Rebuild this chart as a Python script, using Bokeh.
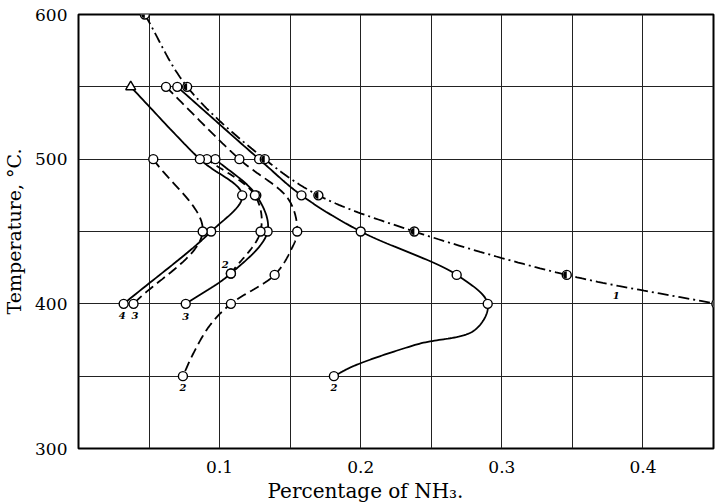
import numpy as np
from bokeh.plotting import figure
from bokeh.models import FixedTicker, Range1d, Title
from bokeh.embed import file_html
from bokeh.resources import INLINE
from bokeh.core.properties import value

# ---------------- data ----------------
# Curve 1, dash-dot
c1_x = [0.047, 0.077, 0.132, 0.170, 0.238, 0.346, 0.452]
c1_y = [600, 550, 500, 475, 450, 420, 400]

# Curve 2, solid (observed points, then traced path)
c2s_x = [0.070, 0.128, 0.158, 0.200, 0.268, 0.290, 0.181]
c2s_y = [550, 500, 475, 450, 420, 400, 350]
c2s_path_x = [0.070, 0.128, 0.158, 0.200, 0.268, 0.290, 0.281, 0.240, 0.195, 0.181]
c2s_path_y = [550, 500, 475, 450, 420, 400, 382, 372, 357, 350]

# Curve 2, dashed
c2d_x = [0.062, 0.114, 0.155, 0.139, 0.108, 0.074]
c2d_y = [550, 500, 450, 420, 400, 350]
c2d_path_x = [0.062, 0.114, 0.149, 0.155, 0.151, 0.139, 0.108, 0.093, 0.081, 0.074]
c2d_path_y = [550, 500, 472, 450, 438, 420, 400, 385, 365, 350]

# Curve 3, solid
c3s_x = [0.076, 0.108, 0.134, 0.126, 0.097]
c3s_y = [400, 421, 450, 475, 500]

# Curve 3, dashed (short)
c3d_x = [0.108, 0.129, 0.125, 0.091]
c3d_y = [421, 450, 475, 500]

# Curve 4, solid (starts with triangle at 550)
c4s_x = [0.037, 0.086, 0.116, 0.094, 0.032]
c4s_y = [550, 500, 475, 450, 400]

# Curve 4/3, dashed
c4d_x = [0.053, 0.088, 0.039]
c4d_y = [500, 450, 400]

# curve number labels
lab_text = ["1", "4", "3", "3", "2", "2", "2"]
lab_x = [0.381, 0.031, 0.040, 0.076, 0.074, 0.181, 0.104]
lab_y = [406, 392, 392, 391, 342, 342, 427]

x_ticks = [0.1, 0.2, 0.3, 0.4]
y_ticks = [300, 400, 500, 600]
x_grid = [0.05, 0.10, 0.15, 0.20, 0.25, 0.30, 0.35, 0.40]
y_grid = [350, 400, 450, 500, 550]

# ---------------- helpers ----------------
SX, SY = 1425.0, 1.453   # px per data unit (used only for smooth drawing)


def smooth(xs, ys, n=30):
    P = np.column_stack([np.asarray(xs, float) * SX, np.asarray(ys, float) * SY])
    if len(P) < 3:
        return list(xs), list(ys)
    P = np.vstack([2 * P[0] - P[1], P, 2 * P[-1] - P[-2]])
    out = []
    for i in range(1, len(P) - 2):
        p0, p1, p2, p3 = P[i - 1], P[i], P[i + 1], P[i + 2]
        t0 = 0.0
        t1 = t0 + max(np.linalg.norm(p1 - p0), 1e-6) ** 0.5
        t2 = t1 + max(np.linalg.norm(p2 - p1), 1e-6) ** 0.5
        t3 = t2 + max(np.linalg.norm(p3 - p2), 1e-6) ** 0.5
        t = np.linspace(t1, t2, n)[:, None]
        A1 = (t1 - t) / (t1 - t0) * p0 + (t - t0) / (t1 - t0) * p1
        A2 = (t2 - t) / (t2 - t1) * p1 + (t - t1) / (t2 - t1) * p2
        A3 = (t3 - t) / (t3 - t2) * p2 + (t - t2) / (t3 - t2) * p3
        B1 = (t2 - t) / (t2 - t0) * A1 + (t - t0) / (t2 - t0) * A2
        B2 = (t3 - t) / (t3 - t1) * A2 + (t - t1) / (t3 - t1) * A3
        C = (t2 - t) / (t2 - t1) * B1 + (t - t1) / (t2 - t1) * B2
        out.append(C if i == 1 else C[1:])
    C = np.vstack(out)
    return list(C[:, 0] / SX), list(C[:, 1] / SY)


FONT = "DejaVu Serif"

p = figure(width=723, height=504, output_backend="svg", toolbar_location=None,
           x_range=Range1d(0, 0.45), y_range=Range1d(300, 600),
           min_border_left=76, min_border_right=10, min_border_top=14,
           min_border_bottom=0)
p.background_fill_color = "white"
p.border_fill_color = "white"
p.outline_line_color = "black"
p.outline_line_width = 2

p.xaxis.ticker = FixedTicker(ticks=x_ticks)
p.yaxis.ticker = FixedTicker(ticks=y_ticks)
p.xgrid.ticker = FixedTicker(ticks=x_grid)
p.ygrid.ticker = FixedTicker(ticks=y_grid)
for g in (p.xgrid, p.ygrid):
    g.grid_line_color = "#222222"
    g.grid_line_width = 1
    g.grid_line_alpha = 1.0

for ax in (p.xaxis, p.yaxis):
    ax.axis_line_color = None
    ax.major_tick_line_color = None
    ax.minor_tick_line_color = None
    ax.major_label_text_font = FONT
    ax.major_label_text_font_size = "17px"
    ax.major_label_text_color = "black"
    ax.axis_label_text_font = FONT
    ax.axis_label_text_font_size = "19px"
    ax.axis_label_text_font_style = "normal"
    ax.axis_label_text_color = "black"

p.xaxis.major_label_standoff = 6
p.yaxis.major_label_standoff = 5
p.yaxis.axis_label = "Temperature, °C."
p.yaxis.axis_label_standoff = 7

xt = Title(text="Percentage of NH₃.", align="left", offset=189,
           text_font=FONT, text_font_size="20px", text_font_style="normal",
           text_color="black", standoff=3)
p.add_layout(xt, "below")

LW = 1.8
sx, sy = smooth(c1_x, c1_y)
p.line(sx, sy, line_color="black", line_width=LW, line_dash="11 4 2 4")
sx, sy = smooth(c2s_path_x, c2s_path_y)
p.line(sx, sy, line_color="black", line_width=LW)
sx, sy = smooth(c2d_path_x, c2d_path_y)
p.line(sx, sy, line_color="black", line_width=LW, line_dash="10 5")
sx, sy = smooth(c3s_x, c3s_y)
p.line(sx, sy, line_color="black", line_width=LW)
sx, sy = smooth(c3d_x, c3d_y)
p.line(sx, sy, line_color="black", line_width=LW, line_dash="8 5")
sx, sy = smooth(c4s_x, c4s_y)
p.line(sx, sy, line_color="black", line_width=LW)
sx, sy = smooth(c4d_x, c4d_y)
p.line(sx, sy, line_color="black", line_width=LW, line_dash="10 5")

MS = 9
for xs, ys in [(c2s_x, c2s_y), (c2d_x, c2d_y), (c3s_x, c3s_y),
               (c3d_x, c3d_y), (c4s_x[1:], c4s_y[1:]), (c4d_x, c4d_y)]:
    p.scatter(xs, ys, marker="circle", size=MS, fill_color="white",
              line_color="black", line_width=1.4)
p.scatter(c4s_x[:1], c4s_y[:1], marker="triangle", size=10, fill_color="white",
          line_color="black", line_width=1.4)
# dash-dot curve points: half filled circles
p.scatter(c1_x, c1_y, marker="circle", size=MS, fill_color="white",
          line_color="black", line_width=1.4)
p.wedge(c1_x, c1_y, radius=3.6, radius_units="screen", start_angle=np.pi / 2,
        end_angle=3 * np.pi / 2, fill_color="black", line_color=None)

p.text(lab_x, lab_y, text=lab_text, text_font=value(FONT),
       text_font_size="10px", text_font_style="bold italic",
       text_align="center", text_baseline="middle", text_color="black")

open("out.html", "w").write(file_html(p, INLINE))
